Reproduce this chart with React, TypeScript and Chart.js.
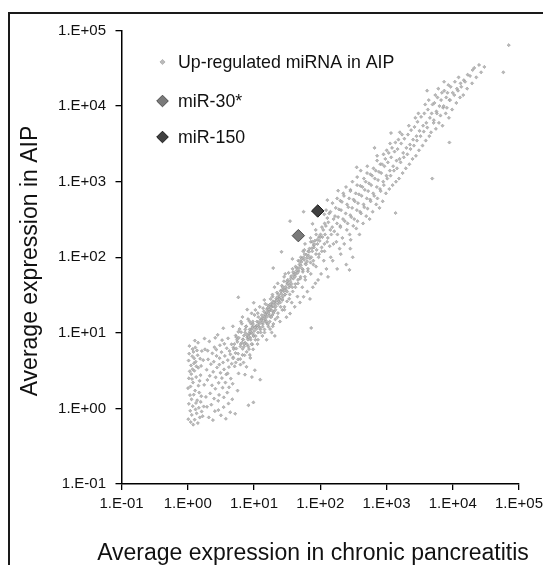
import { useEffect, useRef } from "react";
import { Chart, registerables } from "chart.js";

Chart.register(...registerables);

const FONT = "'Liberation Sans', Arial, Helvetica, sans-serif";

// Axis ticks (both axes are log10, 0.1 .. 1e5)
const tickValues = [0.1, 1, 10, 100, 1000, 10000, 100000];
const xTickLabels = ["1.E-01", "1.E+00", "1.E+01", "1.E+02", "1.E+03", "1.E+04", "1.E+05"];
const yTickLabels = ["1.E-01", "1.E+00", "1.E+01", "1.E+02", "1.E+03", "1.E+04", "1.E+05"];

const xTitle = "Average expression in chronic pancreatitis";
const yTitle = "Average expression in AIP";
const seriesNames = ["Up-regulated miRNA in AIP", "miR-30*", "miR-150"];

// Up-regulated miRNA in AIP, [chronic pancreatitis, AIP] pairs
const clusterPairs: number[][] = [
  [1.02, 0.72], [1.04, 1.15], [1.01, 1.85], [1.07, 3.1], [1.03, 4.3], [1.05, 5.3], [1.09, 0.93], [1.12, 3.7],
  [1.06, 6.7], [1.11, 0.66], [1.14, 1.32], [1.1, 1.95], [1.16, 2.45], [1.13, 2.85], [1.18, 6.1], [1.15, 0.82],
  [1.17, 4.9], [1.21, 0.61], [1.19, 1.07], [1.23, 1.52], [1.2, 2.2], [1.24, 3.95], [1.22, 5.6], [1.27, 0.71],
  [1.26, 3.15], [1.28, 7.9], [1.31, 0.97], [1.33, 1.18], [1.29, 1.72], [1.32, 4.15], [1.3, 6.4], [1.36, 0.86],
  [1.34, 2.6], [1.38, 5.85], [1.42, 0.64], [1.39, 1.28], [1.41, 5.05], [1.43, 7.4], [1.47, 1.02], [1.44, 3.45],
  [1.52, 0.76], [1.49, 1.62], [1.51, 2.32], [1.54, 4.55], [1.57, 1.22], [1.56, 2.75], [1.62, 0.91], [1.59, 3.65],
  [1.63, 5.75], [1.68, 0.79], [1.71, 4.35], [1.74, 1.06], [1.77, 2.05], [1.82, 6.05], [1.79, 8.4], [1.04, 2.5],
  [1.18, 3.3], [1.35, 3.6], [1.25, 4.6], [1.45, 2.0], [1.08, 1.5], [1.6, 1.45],
];

const lowPairs: number[][] = [
  [1.88, 1.42], [1.93, 3.25], [1.98, 2.38], [2.03, 4.45], [2.08, 0.76], [2.12, 7.7], [2.18, 1.58], [2.24, 3.85],
  [2.27, 1.12], [2.32, 2.02], [2.35, 5.35], [2.42, 3.05], [2.47, 4.15], [2.53, 6.45], [2.57, 0.92], [2.61, 1.82],
  [2.64, 2.58], [2.72, 4.95], [2.77, 3.48], [2.83, 9.4], [2.88, 1.26], [2.93, 2.18], [2.97, 1.51], [3.02, 4.62],
  [3.06, 6.85], [3.12, 2.96], [3.17, 0.81], [3.23, 5.55], [3.28, 2.52], [3.36, 1.88], [3.41, 4.05], [3.44, 11.5],
  [3.48, 1.04], [3.53, 3.28], [3.57, 7.15], [3.63, 4.95], [3.76, 0.73], [3.82, 2.82], [3.88, 6.25], [3.95, 1.62],
  [4.02, 4.35], [4.06, 8.45], [4.12, 1.16], [4.18, 3.52], [4.27, 5.75], [4.38, 0.89], [4.46, 2.48], [4.58, 7.05],
  [4.7, 1.32], [4.76, 2.12], [4.84, 4.75], [2.15, 2.7], [2.5, 1.35], [2.7, 6.0], [3.0, 3.8], [3.3, 8.0],
  [3.7, 2.2], [4.0, 2.9], [4.4, 5.2], [4.6, 3.9], [2.0, 5.8], [1.95, 1.05], [2.4, 0.7], [2.9, 0.95],
  [3.5, 1.4], [4.2, 1.9], [4.9, 6.4], [2.6, 8.6],
];

const bandPairs: number[][] = [
  [5.1, 3.6], [4.85, 4.6], [5.25, 5.4], [4.95, 6.1], [5.05, 7.1], [5.3, 9.2], [4.8, 12.2], [5.2, 0.85], [5.4, 8.8],
  [5.65, 1.72], [5.3, 4.05], [5.75, 4.45], [5.4, 6.2], [5.55, 8.1], [5.8, 10.3], [5.85, 2.9], [5.6, 7.6], [5.8, 29.5],
  [6.2, 4.5], [5.75, 5.3], [6.3, 7.1], [5.9, 8.6], [6.05, 11.2], [6.35, 14.1], [6.25, 3.8],
  [6.7, 5.1], [6.25, 6.6], [6.8, 8.2], [6.4, 10.2], [6.55, 13.2], [6.95, 4.05],
  [7.2, 5.05], [6.75, 6.15], [7.35, 7.4], [6.85, 8.1], [7.05, 9.2], [7.4, 11.1], [6.7, 16.2], [7.3, 2.8],
  [7.75, 5.6], [7.2, 7.1], [7.9, 8.7], [7.35, 10.1], [7.6, 12.2],
  [8.25, 1.1], [7.7, 3.55], [8.4, 6.1], [7.85, 7.05], [8.1, 8.15], [8.5, 9.6], [7.6, 12.1], [8.15, 15.2], [7.9, 20.3],
  [8.8, 4.65], [8.2, 6.6], [8.9, 8.1], [8.35, 9.7], [8.6, 11.1], [9.0, 13.2],
  [9.3, 2.6], [8.65, 5.1], [9.45, 7.05], [8.8, 8.6], [9.1, 10.1], [9.55, 12.1], [8.55, 14.2], [9.2, 18.1],
  [9.8, 1.2], [9.15, 7.1], [9.95, 9.1], [9.3, 11.2], [9.65, 13.1],
  [10.3, 3.2], [9.7, 6.05], [10.5, 8.1], [9.8, 9.1], [10.1, 10.6], [10.6, 12.1], [9.6, 14.1], [10.2, 17.2], [9.9, 25],
  [11.3, 7.1], [10.6, 9.05], [11.5, 10.1], [10.8, 12.2], [11.1, 14.1], [11.6, 16.2], [10.5, 20.1],
  [12.4, 2.4], [11.5, 8.1], [12.6, 10.1], [11.8, 12.1], [12.1, 13.2], [12.7, 15.1], [11.4, 18.2], [12.2, 22.1],
  [13.4, 9.1], [12.5, 11.1], [13.6, 13.1], [12.8, 15.2], [13.1, 17.1], [13.7, 21.2],
  [14.4, 10.1], [13.5, 12.1], [14.7, 14.2], [13.7, 16.1], [14.1, 19.2], [14.8, 24.1],
  [15.5, 8.1], [14.4, 11.1], [15.8, 13.2], [14.7, 15.1], [15.2, 18.1], [15.9, 21.1], [14.3, 27.2],
  [16.5, 12.1], [15.4, 14.2], [16.8, 17.1], [15.7, 20.2], [16.2, 23.1],
  [17.5, 11.2], [16.3, 13.1], [17.9, 16.2], [16.7, 19.1], [17.2, 22.2], [17.8, 28.1],
  [18.5, 10.1], [17.3, 14.1], [18.9, 17.2], [17.6, 20.1], [18.2, 24.2], [19.1, 30.1],
  [19.6, 13.1], [18.2, 16.2], [20.0, 19.1], [18.6, 22.2], [19.3, 26.1], [19.5, 72],
  [20.6, 9.1], [19.2, 12.2], [21.0, 15.1], [19.6, 18.2], [20.2, 22.1], [21.2, 26.2], [19.0, 32.1], [20.4, 40.2],
  [22.7, 16.1], [21.1, 20.2], [23.1, 24.1], [21.6, 28.2], [22.2, 34.1],
  [24.7, 14.1], [23.0, 18.2], [25.2, 22.1], [23.5, 26.2], [24.2, 30.1], [25.4, 36.2], [22.8, 45.1],
  [26.8, 20.1], [25.0, 25.2], [27.3, 30.1], [25.5, 35.2], [26.3, 42.1], [26.0, 118],
  [28.8, 22.1], [26.9, 27.2], [29.4, 32.1], [27.4, 38.2], [28.3, 48.1], [29.6, 60.2],
  [30.9, 16.1], [28.8, 20.2], [31.5, 26.1], [29.4, 32.2], [30.3, 38.1], [31.8, 44.2], [28.5, 55.1],
  [34.0, 28.2], [31.7, 35.1], [34.7, 42.2], [32.3, 50.1], [33.3, 62.2], [35, 18], [35, 300],
  [37.1, 25.1], [34.6, 32.2], [37.8, 40.1], [35.3, 48.2], [36.4, 56.1], [38.2, 70.2],
  [41.2, 22.1], [38.4, 35.2], [42.0, 44.1], [39.2, 52.2], [40.4, 62.1], [42.4, 75.2], [38.0, 95.1],
  [45.3, 30.2], [42.2, 40.1], [46.2, 50.2], [43.1, 60.1], [44.4, 72.2], [46.6, 90.1],
  [49.4, 25.2], [46.1, 45.1], [50.4, 55.2], [47.0, 66.1], [48.5, 80.2], [50.9, 100],
  [53.6, 40.1], [49.9, 52.2], [54.6, 64.1], [51.0, 78.2], [52.5, 95.1], [55.1, 120], [56, 30], [56, 400],
  [58.7, 55.2], [54.7, 68.1], [59.9, 82.2], [55.9, 100], [57.6, 125],
  [63.9, 35.1], [59.5, 50.2], [65.1, 65.1], [60.8, 80.2], [62.6, 98.1], [65.7, 120], [58.9, 150],
  [70.0, 28.1], [65.3, 70.2], [71.4, 85.1], [66.6, 105], [68.7, 130], [72.1, 160], [73, 11.6],
  [77.3, 40.1], [72.0, 60.2], [78.8, 80.1], [73.5, 100], [75.8, 120], [79.5, 145], [71.3, 180], [76.5, 277],
  [84.5, 45.2], [78.7, 90.1], [86.1, 110], [80.4, 135], [82.8, 165], [86.9, 200],
  [92.7, 50.1], [86.4, 75.2], [94.5, 100], [88.2, 125], [90.9, 150], [95.4, 185], [85.5, 230],
  [103, 60.2], [96, 110], [105, 135], [98, 165], [101, 200], [106, 250],
  [113, 90.1], [105.6, 120], [115.5, 150], [107.8, 185], [111, 230], [116.5, 280],
];

const corePairs: number[][] = [
  [6.6, 7.4], [7.8, 9.4], [8.7, 10.4], [9.4, 11.6], [10.9, 11.3], [11.9, 13.9], [12.9, 14.6], [13.9, 15.4],
  [14.9, 16.8], [15.9, 18.6], [16.9, 20.4], [17.9, 21.6], [18.9, 23.6], [20.9, 24.4], [21.9, 26.6], [23.9, 28.4],
  [25.9, 32.6], [27.9, 35.4], [29.9, 40.6], [32.9, 45.4], [35.9, 52.6], [39.9, 58.4], [43.9, 66.6], [47.9, 72.4],
  [51.9, 86.6], [56.9, 92.4], [61.9, 108], [67.9, 118], [74.9, 132], [81.9, 148], [89.9, 170], [99.9, 185],
  [7.1, 6.6], [8.3, 8.8], [9.6, 9.7], [10.4, 11.8], [11.2, 12.6], [12.3, 11.6], [13.3, 13.8], [14.6, 17.6],
  [15.6, 16.2], [16.6, 18.1], [17.6, 23.8], [18.7, 19.6], [19.8, 25.1], [21.4, 22.3], [22.4, 29.6], [23.3, 32.4],
  [24.4, 27.8], [26.6, 28.1], [27.1, 40.4], [29.1, 36.2], [31.2, 47.6], [33.7, 39.8], [36.8, 44.6], [38.9, 63.4],
  [41.6, 55.4], [45.8, 62.4], [48.9, 88.6], [53.2, 70.8], [58.1, 110], [63.2, 88.4], [69.4, 96.2], [76.1, 160],
];

const highPairs: number[][] = [
  [124, 70], [116, 120], [127, 160], [118, 200], [121.5, 260], [128, 330], [115, 370], [122.5, 420], [128, 570], [131, 55],
  [139, 140], [130, 180], [142, 230], [132.5, 290], [136.5, 380],
  [154, 90], [144, 100], [158, 150], [147, 200], [151.5, 250], [159, 320], [142.5, 400], [153, 520],
  [175, 160], [163, 220], [179, 280], [167, 350], [171.5, 450], [180, 600], [180, 70], [186, 760],
  [196, 130], [182, 200], [200, 260], [186, 340], [192, 430], [201, 560], [204, 110],
  [216, 180], [202, 250], [221, 320], [206, 420], [212, 540], [223, 700],
  [247, 80], [230, 150], [252, 230], [235, 300], [242, 380], [254, 500], [228, 650], [245, 850],
  [278, 200], [259, 280], [284, 360], [265, 460], [273, 600], [286, 780], [276, 68], [284, 130],
  [309, 100], [288, 170], [315, 260], [294, 340], [303, 450], [318, 580], [285, 750], [306, 1000],
  [350, 240], [326, 320], [357, 420], [333, 550], [343, 700], [360, 900], [355, 1550],
  [391, 200], [365, 300], [399, 400], [372, 520], [384, 680], [403, 880], [361, 1150],
  [443, 280], [413, 380], [451, 500], [421, 650], [434, 850], [456, 1100], [408, 1400],
  [494, 350], [461, 460], [504, 600], [470, 780], [485, 1000], [509, 1300],
  [556, 320], [518, 440], [567, 580], [529, 750], [545, 950], [572, 1250], [513, 1600],
  [618, 400], [576, 550], [630, 700], [588, 900], [606, 1200], [636, 1500], [660, 2800],
  [700, 500], [653, 650], [714, 850], [666, 1100], [687, 1400], [721, 1900],
  [783, 450], [730, 600], [798, 800], [745, 1050], [768, 1350], [806, 1700], [722, 2200],
  [876, 550], [816, 750], [893, 1000], [833, 1300], [859, 1700], [901, 2300],
  [979, 700], [912, 900], [998, 1200], [931, 1600], [960, 2000], [1007, 2600],
];

const topPairs: number[][] = [
  [1102, 800], [1027, 1100], [1124, 1400], [1049, 1800], [1081, 2400], [1134, 3200], [1170, 4400],
  [1236, 900], [1152, 1200], [1260, 1600], [1176, 2100], [1212, 2800],
  [1390, 1000], [1296, 1400], [1418, 1900], [1323, 2500], [1364, 3300], [1370, 385],
  [1545, 1100], [1440, 1500], [1575, 2000], [1470, 2700], [1515, 3600], [1590, 4500],
  [1751, 1300], [1632, 1800], [1785, 2400], [1666, 3200], [1717, 4200],
  [1957, 1500], [1824, 2100], [1995, 2800], [1862, 3700],
  [2215, 1700], [2064, 2300], [2258, 3100], [2107, 4200], [2172, 5500],
  [2472, 2000], [2304, 2700], [2520, 3600], [2352, 4800],
  [2781, 2200], [2592, 3000], [2835, 4000], [2646, 5300], [2727, 7000],
  [3090, 2600], [2880, 3500], [3150, 4700], [2940, 6200], [3030, 8000],
  [3502, 3000], [3264, 4000], [3570, 5500], [3332, 7200],
  [3914, 3500], [3648, 4600], [3990, 6000], [3724, 8000], [3838, 10500], [4100, 16000],
  [4429, 4000], [4128, 5200], [4515, 7000], [4214, 9000], [4343, 12000],
  [4900, 1100], [4704, 4500], [5145, 6000], [4802, 8000], [4949, 10500],
  [5562, 5000], [5184, 6500], [5670, 8500], [5292, 11000], [5454, 14000],
  [6180, 6000], [5760, 8000], [6300, 10000], [5880, 13000], [6060, 17000],
  [7004, 5500], [6528, 7500], [7140, 9500], [6664, 12000], [6868, 15000], [7400, 21000],
  [7828, 8000], [7296, 10000], [7980, 13000], [7448, 16000],
  [8755, 7000], [8160, 9500], [8925, 12000], [8330, 15000], [8585, 19000], [8900, 3300],
  [9785, 9000], [9120, 12000], [9975, 15000], [9310, 18000],
  [11330, 11000], [10560, 14000], [11550, 17000], [10780, 21000],
  [12875, 13000], [12000, 16000], [13125, 20000], [12250, 24000],
  [14420, 14000], [13440, 18000], [14700, 22000],
  [16480, 17000], [15360, 21000], [16800, 26000],
  [19570, 20000], [18240, 25000], [19950, 30000],
  [22660, 24000], [21120, 32000], [26780, 28000], [24960, 35000], [30000, 33000], [58000, 28000], [70000, 64000],
];

// Highlighted miRNAs
const mir30X = [46.7];
const mir30Y = [193];
const mir150X = [91.6];
const mir150Y = [409];

function fromPairs(...groups: number[][][]) {
  return groups.flatMap((g) => g.map(([x, y]) => ({ x, y })));
}

function pairPoints(xs: number[], ys: number[]) {
  return xs.map((x, i) => ({ x, y: ys[i] }));
}

function diamond(ctx: CanvasRenderingContext2D, x: number, y: number, r: number) {
  ctx.beginPath();
  ctx.moveTo(x - r, y);
  ctx.lineTo(x, y - r);
  ctx.lineTo(x + r, y);
  ctx.lineTo(x, y + r);
  ctx.closePath();
}

const overlayPlugin = {
  id: "overlay",
  afterDraw(chart: any) {
    const ctx: CanvasRenderingContext2D = chart.ctx;
    ctx.save();
    ctx.fillStyle = "#111";
    ctx.textAlign = "center";
    ctx.textBaseline = "middle";
    ctx.font = `23px ${FONT}`;
    ctx.fillText(xTitle, 313, 554);
    ctx.save();
    ctx.translate(31, 261);
    ctx.rotate(-Math.PI / 2);
    ctx.font = `23px ${FONT}`;
    ctx.fillText(yTitle, 0, 0);
    ctx.restore();

    // legend inside plot area
    const rows = [62, 101, 137];
    const markerX = 162.5;
    const textX = 178;
    ctx.textAlign = "left";
    ctx.textBaseline = "alphabetic";
    ctx.font = `17.8px ${FONT}`;
    chart.data.datasets.forEach((ds: any, i: number) => {
      const cy = rows[i];
      const r = i === 0 ? 2.6 : 5.8;
      diamond(ctx, markerX, cy, r);
      ctx.fillStyle = ds.backgroundColor;
      ctx.fill();
      ctx.lineWidth = ds.borderWidth;
      ctx.strokeStyle = ds.borderColor;
      ctx.stroke();
      ctx.fillStyle = "#111";
      ctx.fillText(ds.label, textX, cy + 5.5);
    });
    ctx.restore();
  },
};

export default function App() {
  const ref = useRef<HTMLCanvasElement>(null);

  useEffect(() => {
    if (!ref.current) return;
    const tickFont = { family: FONT, size: 15 };
    const chart = new Chart(ref.current, {
      type: "scatter",
      data: {
        datasets: [
          {
            label: seriesNames[0],
            data: fromPairs(clusterPairs, lowPairs, bandPairs, corePairs, highPairs, topPairs),
            pointStyle: "rectRot",
            pointRadius: 1.6,
            backgroundColor: "#bababa",
            borderColor: "#8e8e8e",
            borderWidth: 0.5,
            order: 2,
          },
          {
            label: seriesNames[1],
            data: pairPoints(mir30X, mir30Y),
            pointStyle: "rectRot",
            pointRadius: 6.2,
            backgroundColor: "#7a7a7a",
            borderColor: "#4a4a4a",
            borderWidth: 1,
            order: 1,
          },
          {
            label: seriesNames[2],
            data: pairPoints(mir150X, mir150Y),
            pointStyle: "rectRot",
            pointRadius: 6.2,
            backgroundColor: "#404040",
            borderColor: "#151515",
            borderWidth: 1,
            order: 0,
          },
        ],
      },
      options: {
        animation: false,
        responsive: false,
        devicePixelRatio: 1,
        layout: { padding: { top: 30.5, right: 24, bottom: 0, left: 0 } },
        plugins: {
          legend: { display: false },
          tooltip: { enabled: false },
        },
        scales: {
          x: {
            type: "logarithmic",
            position: "bottom",
            min: 0.1,
            max: 100000,
            afterBuildTicks: (s: any) => {
              s.ticks = tickValues.map((v) => ({ value: v }));
            },
            afterFit: (s: any) => {
              s.height = 81;
              s.paddingRight = 0;
              s.paddingLeft = 0;
            },
            ticks: {
              callback: (_v: any, i: number) => xTickLabels[i],
              font: tickFont,
              color: "#111",
              padding: 5,
              maxRotation: 0,
              autoSkip: false,
            },
            grid: { drawOnChartArea: false, drawTicks: true, tickLength: 6, color: "#000", lineWidth: 1.3 },
            border: { display: true, color: "#000", width: 1.5 },
          },
          y: {
            type: "logarithmic",
            position: "left",
            min: 0.1,
            max: 100000,
            afterBuildTicks: (s: any) => {
              s.ticks = tickValues.map((v) => ({ value: v }));
            },
            afterFit: (s: any) => {
              s.width = 121.5;
              s.paddingTop = 0;
              s.paddingBottom = 0;
            },
            ticks: {
              callback: (_v: any, i: number) => yTickLabels[i],
              font: tickFont,
              color: "#111",
              padding: 9.5,
              autoSkip: false,
            },
            grid: { drawOnChartArea: false, drawTicks: true, tickLength: 6, color: "#000", lineWidth: 1.3 },
            border: { display: true, color: "#000", width: 1.5 },
          },
        },
      },
      plugins: [overlayPlugin],
    } as any);
    return () => chart.destroy();
  }, []);

  return (
    <div
      style={{
        position: "fixed",
        left: 0,
        top: 0,
        width: 543,
        height: 565,
        overflow: "hidden",
        background: "#fff",
      }}
    >
      <canvas ref={ref} width={543} height={565} style={{ display: "block", width: 543, height: 565 }} />
      <div
        style={{
          position: "absolute",
          left: 8,
          top: 12,
          width: 600,
          height: 600,
          borderTop: "2px solid #1a1a1a",
          borderLeft: "2px solid #1a1a1a",
          pointerEvents: "none",
        }}
      />
    </div>
  );
}
